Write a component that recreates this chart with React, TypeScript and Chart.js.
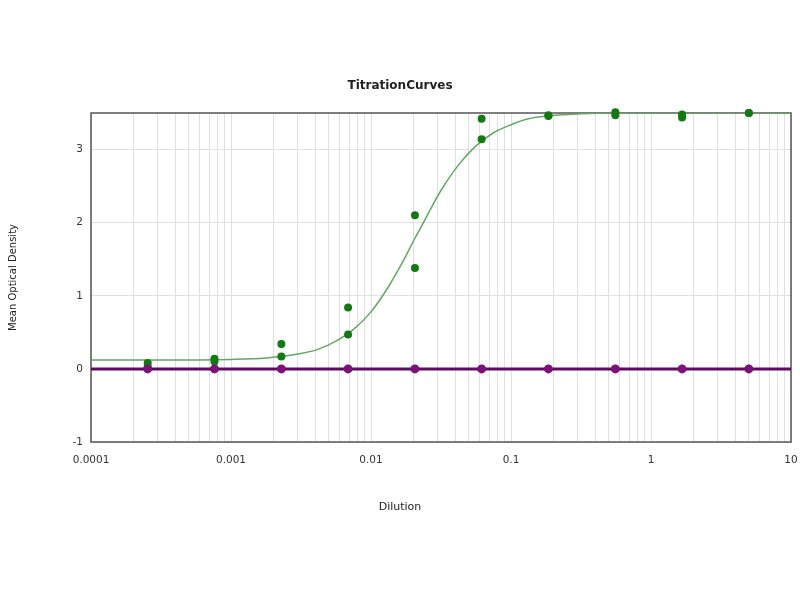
import React, { useEffect, useRef } from "react";
import { Chart, registerables } from "chart.js";

Chart.register(...registerables);

const titleText = "TitrationCurves";
const xTitle = "Dilution";
const yTitle = "Mean Optical Density";

const dilutions = [0.000254, 0.000762, 0.00229, 0.00686, 0.0206, 0.0617, 0.185, 0.556, 1.667, 5];
const greenRep1 = [0.08, 0.14, 0.34, 0.84, 2.1, 3.42, 3.47, 3.51, 3.48, 3.5];
const greenRep2 = [0.03, 0.1, 0.17, 0.47, 1.38, 3.14, 3.46, 3.47, 3.44, 3.5];
const purpleValues = [0, 0, 0, 0, 0, 0, 0, 0, 0, 0];

const fitX = [0.0001, 0.000316, 0.001, 0.00178, 0.00316, 0.00422, 0.00562, 0.0075, 0.01, 0.0133, 0.0154, 0.0178, 0.0205, 0.0237, 0.0274, 0.0316, 0.0422, 0.0562, 0.075, 0.1, 0.133, 0.178, 0.316, 0.562, 1, 10];
const fitY = [0.12, 0.12, 0.13, 0.15, 0.21, 0.27, 0.38, 0.54, 0.78, 1.12, 1.33, 1.55, 1.78, 2.0, 2.23, 2.44, 2.79, 3.05, 3.23, 3.34, 3.42, 3.46, 3.49, 3.5, 3.5, 3.5];

const purpleLineX = [0.0001, 10];
const purpleLineY = [0, 0];

const xMajorTicks = [0.0001, 0.001, 0.01, 0.1, 1, 10];
const xTickLabels = ["0.0001", "0.001", "0.01", "0.1", "1", "10"];
const xMinorMultipliers = [2, 3, 4, 5, 6, 7, 8, 9];
const yTicks = [-1, 0, 1, 2, 3];

const FONT = "'DejaVu Sans', Verdana, sans-serif";

const toPoints = (xs: number[], ys: number[]) => xs.map((x, i) => ({ x, y: ys[i] }));

const framePlugin = {
  id: "frame",
  beforeDatasetsDraw(chart: any) {
    const { ctx, chartArea } = chart;
    const { left, top, right, bottom } = chartArea;
    ctx.save();
    ctx.strokeStyle = "#555555";
    ctx.lineWidth = 1.5;
    ctx.strokeRect(left, top, right - left, bottom - top);
    ctx.restore();
  },
};

export default function App() {
  const ref = useRef<HTMLCanvasElement | null>(null);

  useEffect(() => {
    if (!ref.current) return;
    const allXTicks: number[] = [];
    for (let i = 0; i < xMajorTicks.length - 1; i++) {
      allXTicks.push(xMajorTicks[i]);
      xMinorMultipliers.forEach((m) => allXTicks.push(+(m * xMajorTicks[i]).toPrecision(6)));
    }
    allXTicks.push(xMajorTicks[xMajorTicks.length - 1]);

    const chart = new Chart(ref.current, {
      type: "scatter",
      data: {
        datasets: [
          {
            label: "Negative points",
            data: toPoints(dilutions, purpleValues),
            backgroundColor: "#7a127a",
            borderColor: "#7a127a",
            pointRadius: 4.5,
            pointBorderWidth: 0,
            showLine: false,
            order: 0,
            clip: false,
          } as any,
          {
            label: "Negative fit",
            data: toPoints(purpleLineX, purpleLineY),
            borderColor: "#5e0d5e",
            borderWidth: 3,
            pointRadius: 0,
            showLine: true,
            order: 1,
          } as any,
          {
            label: "Rep 1",
            data: toPoints(dilutions, greenRep1),
            backgroundColor: "#137a13",
            borderColor: "#137a13",
            pointRadius: 4,
            pointBorderWidth: 0,
            showLine: false,
            order: 2,
            clip: false,
          } as any,
          {
            label: "Rep 2",
            data: toPoints(dilutions, greenRep2),
            backgroundColor: "#137a13",
            borderColor: "#137a13",
            pointRadius: 4,
            pointBorderWidth: 0,
            showLine: false,
            order: 3,
            clip: false,
          } as any,
          {
            label: "Fit",
            data: toPoints(fitX, fitY),
            borderColor: "#62a862",
            borderWidth: 1.5,
            pointRadius: 0,
            showLine: true,
            cubicInterpolationMode: "monotone",
            order: 4,
          } as any,
        ],
      },
      options: {
        animation: false,
        responsive: false,
        layout: { padding: { left: 0, right: 0, top: 0, bottom: 0 } },
        plugins: {
          legend: { display: false },
          tooltip: { enabled: false },
          title: {
            display: true,
            text: titleText,
            color: "#222222",
            font: { family: FONT, size: 12, weight: "bold" },
            padding: { top: 79, bottom: 19.6 },
          },
          subtitle: {
            display: true,
            position: "bottom",
            text: xTitle,
            color: "#222222",
            font: { family: FONT, size: 11, weight: "normal" },
            padding: { top: 0, bottom: 86.4 },
          },
        },
        scales: {
          x: {
            type: "logarithmic",
            min: 0.0001,
            max: 10,
            afterBuildTicks: (scale: any) => {
              scale.ticks = allXTicks.map((v) => ({ value: v }));
            },
            afterFit: (scale: any) => {
              scale.height = 58.4;
              scale.paddingRight = 0;
              scale.paddingLeft = 0;
            },
            ticks: {
              autoSkip: false,
              maxRotation: 0,
              padding: 12,
              color: "#333333",
              font: { family: FONT, size: 10.5 },
              callback: (value: any) => {
                const idx = xMajorTicks.findIndex((t) => Math.abs(t - Number(value)) / t < 1e-6);
                return idx >= 0 ? xTickLabels[idx] : "";
              },
            },
            grid: { color: "#e0e0e0", lineWidth: 1, drawTicks: false },
            border: { display: false },
            title: { display: false },
          },
          y: {
            type: "linear",
            min: -1,
            max: 3.5,
            afterBuildTicks: (scale: any) => {
              scale.ticks = yTicks.map((v) => ({ value: v }));
            },
            afterFit: (scale: any) => {
              scale.width = 91;
            },
            ticks: {
              padding: 8,
              color: "#333333",
              font: { family: FONT, size: 10.5 },
            },
            grid: { color: "#e0e0e0", lineWidth: 1, drawTicks: false },
            border: { display: false },
            title: {
              display: true,
              text: yTitle,
              color: "#222222",
              font: { family: FONT, size: 10 },
              padding: { top: 7, bottom: 0 },
            },
          },
          yRight: {
            type: "linear",
            position: "right",
            min: -1,
            max: 3.5,
            ticks: { display: false },
            grid: { display: false, drawTicks: false },
            border: { display: false },
            afterFit: (scale: any) => {
              scale.width = 9;
            },
          },
        },
      },
      plugins: [framePlugin],
    } as any);
    return () => chart.destroy();
  }, []);

  return (
    <div style={{ position: "absolute", left: 0, top: 0, width: 800, height: 600 }}>
      <canvas ref={ref} width={800} height={600} />
    </div>
  );
}
